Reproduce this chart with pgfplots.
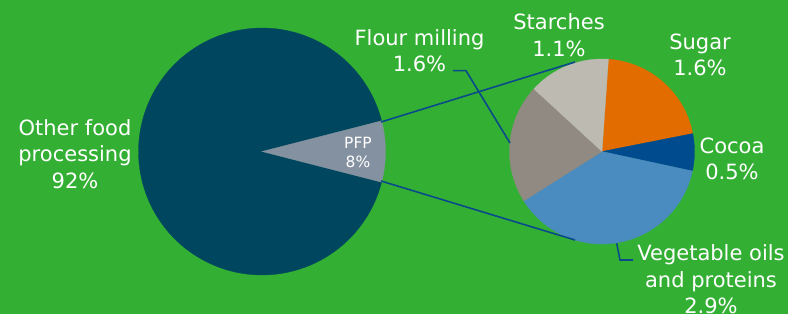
\documentclass[border=0pt]{standalone}
\usepackage{pgfplots}
\usepackage{pgfplotstable}
\pgfplotsset{compat=1.18}
\usepackage{fontspec}
\setmainfont{DejaVu Sans}

\definecolor{bg}{HTML}{33B034}
\definecolor{cOther}{HTML}{00465F}
\definecolor{cPFP}{HTML}{8491A0}
\definecolor{cSugar}{HTML}{E36C00}
\definecolor{cCocoa}{HTML}{004B8D}
\definecolor{cVeg}{HTML}{4A8BC0}
\definecolor{cFlour}{HTML}{918A82}
\definecolor{cStarch}{HTML}{BDBAB2}
\definecolor{cLine}{HTML}{0A4A8A}

\pgfplotstableread{
name value
Other 92
PFP 8
}\bigpie
\pgfplotstableread{
name value
Sugar 1.6
Cocoa 0.5
Veg 2.9
Flour 1.6
Starches 1.1
}\smallpie

\pgfplotstablegetelem{0}{value}\of\bigpie \let\vOther\pgfplotsretval
\pgfplotstablegetelem{1}{value}\of\bigpie \let\vPFP\pgfplotsretval
\pgfplotstablegetelem{0}{value}\of\smallpie \let\vSugar\pgfplotsretval
\pgfplotstablegetelem{1}{value}\of\smallpie \let\vCocoa\pgfplotsretval
\pgfplotstablegetelem{2}{value}\of\smallpie \let\vVeg\pgfplotsretval
\pgfplotstablegetelem{3}{value}\of\smallpie \let\vFlour\pgfplotsretval
\pgfplotstablegetelem{4}{value}\of\smallpie \let\vStar\pgfplotsretval

\pgfmathsetmacro\bA{-\vPFP/(\vOther+\vPFP)*180}
\pgfmathsetmacro\bB{\vPFP/(\vOther+\vPFP)*180}
\pgfmathsetmacro\bC{\bA+360}

\pgfmathsetmacro\tot{\vSugar+\vCocoa+\vVeg+\vFlour+\vStar}
\pgfmathsetmacro\sA{86}
\pgfmathsetmacro\sB{\sA-\vSugar/\tot*360}
\pgfmathsetmacro\sC{\sB-\vCocoa/\tot*360}
\pgfmathsetmacro\sD{\sC-\vVeg/\tot*360}
\pgfmathsetmacro\sE{\sD-\vFlour/\tot*360}
\pgfmathsetmacro\sF{\sE-\vStar/\tot*360}

\begin{document}
\begin{tikzpicture}
\useasboundingbox (0,0) rectangle (788pt,314pt);
\clip (0,0) rectangle (788pt,314pt);
\fill[bg] (0,0) rectangle (788pt,314pt);
\begin{axis}[
  at={(0,0)}, anchor=south west,
  x=1pt, y=1pt, xmin=0, xmax=788, ymin=0, ymax=314,
  scale only axis, hide axis, clip=false,
]
% big pie
\addplot[fill=cOther, draw=cOther, line width=0.3pt, domain=\bB:\bC, samples=150, variable=\t]
  ({262+123.5*cos(\t)},{162.5+123.5*sin(\t)}) -- (axis cs:262,162.5) -- cycle;
\addplot[fill=cPFP, draw=cPFP, line width=0.3pt, domain=\bA:\bB, samples=30, variable=\t]
  ({262+123.5*cos(\t)},{162.5+123.5*sin(\t)}) -- (axis cs:262,162.5) -- cycle;
% small pie
\addplot[fill=cSugar, draw=cSugar, line width=0.3pt, domain=\sB:\sA, samples=50, variable=\t]
  ({602+92.5*cos(\t)},{162.5+92.5*sin(\t)}) -- (axis cs:602,162.5) -- cycle;
\addplot[fill=cCocoa, draw=cCocoa, line width=0.3pt, domain=\sC:\sB, samples=30, variable=\t]
  ({602+92.5*cos(\t)},{162.5+92.5*sin(\t)}) -- (axis cs:602,162.5) -- cycle;
\addplot[fill=cVeg, draw=cVeg, line width=0.3pt, domain=\sD:\sC, samples=80, variable=\t]
  ({602+92.5*cos(\t)},{162.5+92.5*sin(\t)}) -- (axis cs:602,162.5) -- cycle;
\addplot[fill=cFlour, draw=cFlour, line width=0.3pt, domain=\sE:\sD, samples=50, variable=\t]
  ({602+92.5*cos(\t)},{162.5+92.5*sin(\t)}) -- (axis cs:602,162.5) -- cycle;
\addplot[fill=cStarch, draw=cStarch, line width=0.3pt, domain=\sF:\sE, samples=40, variable=\t]
  ({602+92.5*cos(\t)},{162.5+92.5*sin(\t)}) -- (axis cs:602,162.5) -- cycle;

% connector lines
\draw[cLine, line width=1.6pt] (axis cs:381,192) -- (axis cs:575,252);
\draw[cLine, line width=1.6pt] (axis cs:381,133) -- (axis cs:575,74);
\draw[cLine, line width=1.6pt] (axis cs:453,243.3) -- (axis cs:466,243.3) -- (axis cs:510,171);
\draw[cLine, line width=1.6pt] (axis cs:616.7,70.7) -- (axis cs:620,54) -- (axis cs:633,54);

% labels
\node[white, align=center, font=\fontsize{21}{26.5}\selectfont] at (axis cs:75,160) {Other food\\processing\\92\%};
\node[white, align=center, font=\fontsize{15.5}{19}\selectfont] at (axis cs:358,161.5) {PFP\\8\%};
\node[white, align=center, font=\fontsize{21}{26.5}\selectfont] at (axis cs:419.5,263.5) {Flour milling\\1.6\%};
\node[white, align=center, font=\fontsize{21}{26.5}\selectfont] at (axis cs:559,279) {Starches\\1.1\%};
\node[white, align=center, font=\fontsize{21}{26.5}\selectfont] at (axis cs:700,259) {Sugar\\1.6\%};
\node[white, align=center, font=\fontsize{21}{26.5}\selectfont] at (axis cs:732,155.3) {Cocoa\\0.5\%};
\node[white, align=center, font=\fontsize{21}{26.5}\selectfont] at (axis cs:711,34.7) {Vegetable oils\\and proteins\\2.9\%};
\end{axis}
\end{tikzpicture}
\end{document}
